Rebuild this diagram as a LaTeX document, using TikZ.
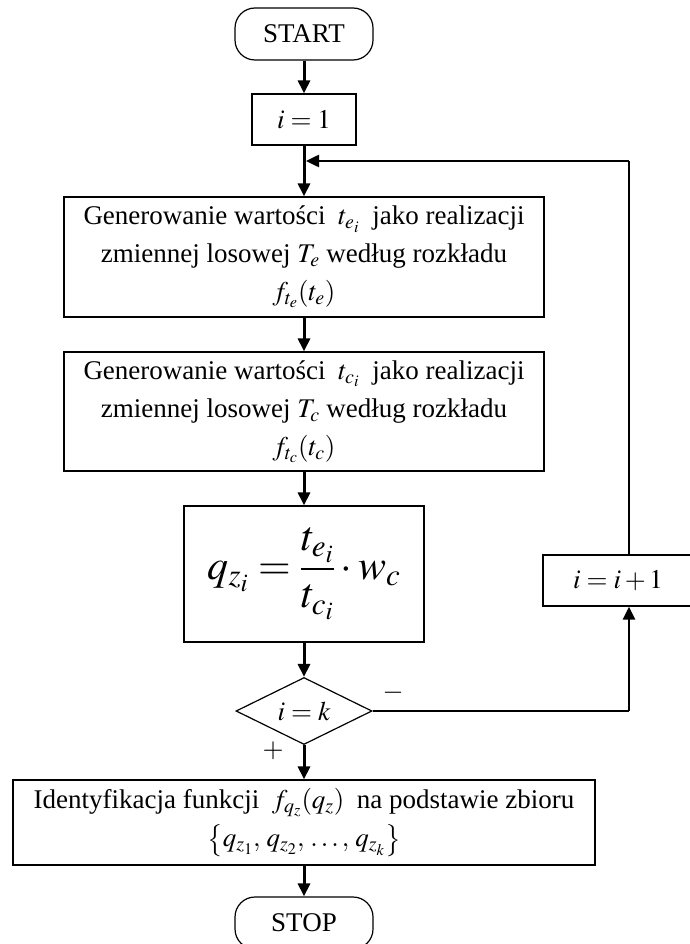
\documentclass[tikz,border=0pt]{standalone}
\usepackage{amsmath}
\usepackage{mathptmx}
\usepackage{fontspec}
\setmainfont{Liberation Serif}
\usetikzlibrary{arrows.meta,shapes.geometric}

\begin{document}
\begin{tikzpicture}[x=1pt,y=-1pt,
  box/.style={draw,line width=1.2pt,inner sep=0pt,align=center,font=\fontsize{27}{38}\selectfont},
  term/.style={box,rounded corners=20pt,minimum width=138pt,minimum height=52pt},
  cond/.style={box,diamond,aspect=2,minimum width=136pt,minimum height=67pt},
  flow/.style={line width=3pt,-{Triangle[length=13pt,width=12pt]}},
  backline/.style={line width=1.5pt}]
\useasboundingbox (0,0) rectangle (689,944);
% main column
\node[term] (start) at (304,34) {START};
\node[box,minimum width=104pt,minimum height=51pt] (init) at (304,119.5) {$i=1$};
\node[box,minimum width=480pt,minimum height=120pt] (gen1) at (304,257)
  {Generowanie wartości $\;t_{e_i}\;$ jako realizacji\\ zmiennej losowej $T_e$ według rozkładu\\ $f_{t_e}(t_e)$};
\node[box,minimum width=480pt,minimum height=119pt] (gen2) at (304,411.5)
  {Generowanie wartości $\;t_{c_i}\;$ jako realizacji\\ zmiennej losowej $T_c$ według rozkładu\\ $f_{t_c}(t_c)$};
\node[box,minimum width=240pt,minimum height=136pt,font=\fontsize{42}{48}\selectfont] (ratio) at (304,574)
  {$q_{z_i}=\dfrac{t_{e_i}}{t_{c_i}}\cdot w_c$};
\node[cond] (check) at (304,711) {$i=k$};
\node[box,minimum width=582pt,minimum height=85pt] (ident) at (304,822.5)
  {Identyfikacja funkcji $\;f_{q_z}(q_z)\;$ na podstawie zbioru\\ $\bigl\{q_{z_1},\,q_{z_2},\,\ldots,\,q_{z_k}\bigr\}$};
\node[term] (stop) at (304,923) {STOP};
% loop
\node[box,minimum width=150pt,minimum height=51pt] (incr) at (618,580.5) {$i=i+1$};
\coordinate (turn) at (629,711);
\coordinate (corner) at (629,161);
\coordinate (loopin) at (306,161);
\node[font=\fontsize{27}{38}\selectfont] (minus) at (393,693) {$-$};
\node[font=\fontsize{27}{38}\selectfont] (plus) at (273,751) {$+$};
% connectors
\draw[flow] (start) -- (init);
\draw[flow] (init) -- (gen1);
\draw[flow] (gen1) -- (gen2);
\draw[flow] (gen2) -- (ratio);
\draw[flow] (ratio) -- (check);
\draw[flow] (check) -- (ident);
\draw[flow] (ident) -- (stop);
\draw[line width=2pt] (check.east) -- (turn);
\draw[flow,line width=2.5pt] (turn) -- (turn |- incr.south);
\draw[backline] (turn |- incr.north) -- (corner);
\draw[flow,line width=2.5pt] (corner) -- (loopin);
\end{tikzpicture}
\end{document}
